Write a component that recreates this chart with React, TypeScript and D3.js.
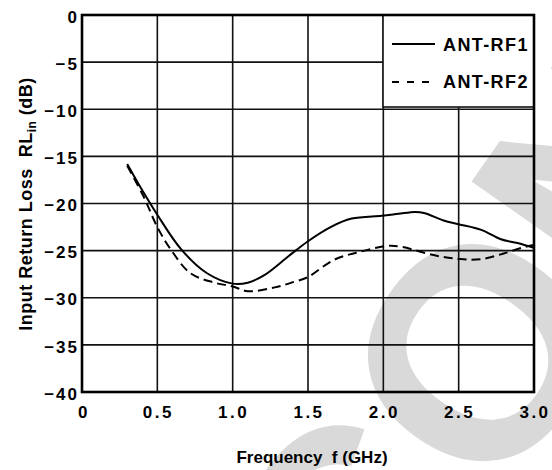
import React from "react";
import * as d3 from "d3";

const xTicks = [0, 0.5, 1.0, 1.5, 2.0, 2.5, 3.0];
const xTickLabels = ["0", "0.5", "1.0", "1.5", "2.0", "2.5", "3.0"];
const yTicks = [0, -5, -10, -15, -20, -25, -30, -35, -40];
const yTickLabels = ["0", "\u22125", "\u221210", "\u221215", "\u221220", "\u221225", "\u221230", "\u221235", "\u221240"];

const rf1Freq = [0.3, 0.4, 0.5, 0.66, 0.83, 1.0, 1.1, 1.21, 1.37, 1.5, 1.65, 1.79, 1.99, 2.1, 2.21, 2.27, 2.4, 2.5, 2.65, 2.78, 2.89, 3.0];
const rf1Loss = [-15.8, -18.6, -21.2, -24.9, -27.4, -28.5, -28.4, -27.6, -25.6, -24.0, -22.5, -21.6, -21.3, -21.1, -20.9, -21.0, -21.8, -22.2, -22.8, -23.8, -24.2, -24.7];
const rf2Freq = [0.3, 0.41, 0.5, 0.59, 0.72, 0.88, 1.0, 1.1, 1.28, 1.41, 1.5, 1.67, 1.85, 2.03, 2.12, 2.34, 2.51, 2.65, 2.8, 2.94, 3.0];
const rf2Loss = [-16.0, -19.3, -22.5, -24.9, -27.4, -28.4, -28.8, -29.3, -28.9, -28.3, -27.8, -26.0, -25.1, -24.5, -24.6, -25.5, -25.9, -25.9, -25.3, -24.6, -24.4];

const seriesNames = ["ANT-RF1", "ANT-RF2"];

export default function App() {
  const W = 552, H = 470;
  const left = 82, right = 534, top = 15, bottom = 392;
  const x = d3.scaleLinear().domain([0, 3]).range([left, right]);
  const y = d3.scaleLinear().domain([-40, 0]).range([bottom, top]);
  const line = d3.line<[number, number]>().x(d => x(d[0])).y(d => y(d[1])).curve(d3.curveCatmullRom.alpha(0.5));
  const rf1: [number, number][] = rf1Freq.map((f, i) => [f, rf1Loss[i]]);
  const rf2: [number, number][] = rf2Freq.map((f, i) => [f, rf2Loss[i]]);
  const font = "'Liberation Sans', Arial, Helvetica, sans-serif";
  const lg = { x0: 383, y1: 107 };

  return (
    <svg width={W} height={H} style={{ position: "absolute", left: 0, top: 0, background: "#fff" }} fontFamily={font}>
      <rect x={0} y={0} width={W} height={H} fill="#fff" />
      <text
        transform="translate(371,685) rotate(-55)"
        fontSize={300}
        fontWeight="bold"
        fill="#d9d9d9"
        fontFamily={font}
      >CONFIDENTIAL</text>
      {/* grid */}
      {xTicks.slice(1, -1).map(t => (
        <line key={"gx" + t} x1={x(t)} x2={x(t)} y1={top} y2={bottom} stroke="#111" strokeWidth={1.6} />
      ))}
      {yTicks.slice(1, -1).map(t => (
        <line key={"gy" + t} x1={left} x2={right} y1={y(t)} y2={y(t)} stroke="#111" strokeWidth={1.6} />
      ))}
      {/* legend box */}
      <rect x={lg.x0} y={top} width={right - lg.x0} height={lg.y1 - top} fill="#fff" stroke="#111" strokeWidth={1.6} />
      <line x1={392} x2={435} y1={44} y2={44} stroke="#000" strokeWidth={2} />
      <line x1={392} x2={435} y1={82} y2={82} stroke="#000" strokeWidth={2} strokeDasharray="7,8" />
      <text x={443} y={51} fontSize={18} fontWeight="bold" letterSpacing={1.4}>{seriesNames[0]}</text>
      <text x={443} y={88} fontSize={18} fontWeight="bold" letterSpacing={1.4}>{seriesNames[1]}</text>
      {/* curves */}
      <path d={line(rf1) || ""} fill="none" stroke="#000" strokeWidth={2} />
      <path d={line(rf2) || ""} fill="none" stroke="#000" strokeWidth={2} strokeDasharray="9,5" />
      {/* frame */}
      <rect x={left} y={top} width={right - left} height={bottom - top} fill="none" stroke="#000" strokeWidth={2.6} />
      {/* y ticks */}
      {yTicks.map((t, i) => (
        <text key={"yl" + t} x={79} y={y(t)} dy="0.45em" textAnchor="end" fontSize={17} fontWeight="bold" letterSpacing={2}>{yTickLabels[i]}</text>
      ))}
      {xTicks.map((t, i) => (
        <text key={"xl" + t} x={x(t) + (i === 0 ? 2 : 1)} y={418} textAnchor="middle" fontSize={17} fontWeight="bold" letterSpacing={2.5}>{xTickLabels[i]}</text>
      ))}
      <text x={(left + right) / 2 + 4} y={463} textAnchor="middle" fontSize={17} fontWeight="bold">{"Frequency\u00A0\u00A0f (GHz)"}</text>
      <text transform={`translate(32,204) rotate(-90)`} textAnchor="middle" fontSize={18} fontWeight="bold" letterSpacing={0.5}>
        {"Input Return Loss\u00A0\u00A0RL"}<tspan fontSize={12} dy={4}>in</tspan><tspan dy={-4}>{" (dB)"}</tspan>
      </text>
    </svg>
  );
}
